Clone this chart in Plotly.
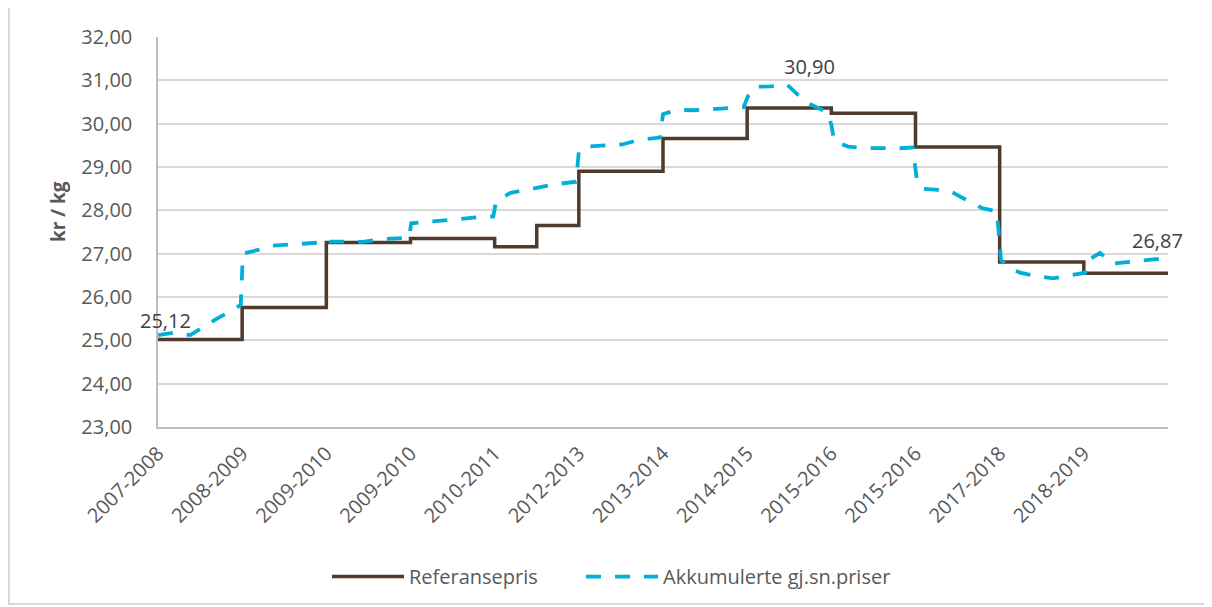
import plotly.graph_objects as go

# ---- data ----
tick_labels = ["2007-2008", "2008-2009", "2009-2010", "2009-2010", "2010-2011", "2012-2013",
               "2013-2014", "2014-2015", "2015-2016", "2015-2016", "2017-2018", "2018-2019"]
tick_months = [0, 12, 24, 36, 48, 60, 72, 84, 96, 108, 120, 132]

ref_months = [0, 12, 24, 36, 48, 54, 60, 72, 84, 96, 108, 120, 132, 144]
ref_values = [25.02, 25.76, 27.26, 27.35, 27.16, 27.65, 28.90, 29.66, 30.36, 30.24, 29.46, 26.81, 26.55, 26.55]

acc_months = [0, 2.4, 4.6, 6.4, 8.4, 10.7, 11.8, 12.1, 14.1, 16.0, 18.4, 20.7, 23.4, 23.8, 24.5, 26.9,
              29.2, 31.7, 34.1, 35.8, 36.1, 38.8, 40.9, 43.3, 46.3, 47.8, 48.2, 50.2, 52.0, 54.7,
              56.6, 59.6, 60.0, 61.0, 64.0, 66.2, 68.4, 71.6, 72.0, 74.0, 76.3, 78.7, 80.8, 83.5,
              84.1, 85.1, 87.3, 89.7, 91.2, 93.2, 95.5, 96.0, 96.4, 98.4, 100.5, 105.4, 107.6,
              108.2, 108.9, 111.2, 113.3, 115.5, 117.5, 119.6, 120.2, 121.2, 122.9, 125.3, 127.6,
              130.0, 132.2, 132.9, 134.3, 136.1, 138.2, 140.4, 142.8, 144.0]
acc_values = [25.12, 25.18, 25.12, 25.30, 25.50, 25.70, 25.82, 27.00, 27.08, 27.18, 27.20, 27.24, 27.26,
              27.33, 27.28, 27.28, 27.27, 27.33, 27.36, 27.37, 27.70, 27.74, 27.78, 27.82, 27.85,
              27.86, 28.20, 28.40, 28.46, 28.54, 28.60, 28.66, 29.36, 29.47, 29.51, 29.52, 29.62,
              29.68, 30.22, 30.32, 30.31, 30.33, 30.36, 30.38, 30.63, 30.85, 30.86, 30.90, 30.67,
              30.43, 30.26, 29.97, 29.60, 29.47, 29.44, 29.43, 29.45, 28.70, 28.50, 28.47, 28.41,
              28.22, 28.05, 27.98, 26.85, 26.70, 26.56, 26.48, 26.43, 26.50, 26.56, 26.88, 27.02,
              26.77, 26.80, 26.85, 26.88, 26.87]

FONT = "Open Sans"
GRAY = "#595959"

fig = go.Figure()
fig.add_trace(go.Scatter(x=ref_months, y=ref_values, mode="lines", line_shape="hv",
                         name="Referansepris", legend="legend",
                         line=dict(color="#503A2D", width=3.5)))
fig.add_trace(go.Scatter(x=acc_months, y=acc_values, mode="lines",
                         name="Akkumulerte gj.sn.priser", legend="legend2",
                         line=dict(color="#00AFD8", width=3.8, dash="15px,14px")))

def fmt(v):
    return f"{v:.2f}".replace(".", ",")

imax = acc_values.index(max(acc_values))
labels = [(0, 7, 15), (imax, 22, 18), (len(acc_values) - 1, -11, 19)]
for i, dx, dy in labels:
    fig.add_annotation(x=acc_months[i], y=acc_values[i], text=fmt(acc_values[i]), showarrow=False,
                       xshift=dx, yshift=dy, font=dict(family=FONT, size=20, color="#404040"))

fig.add_annotation(text="<b>kr / kg</b>", xref="paper", yref="paper", x=0, y=0.551, xshift=-100,
                   xanchor="center", yanchor="middle", textangle=-90, showarrow=False,
                   font=dict(family=FONT, size=19, color=GRAY))

# chart area border (left and bottom edges visible in the crop)
fig.add_shape(type="rect", xref="paper", yref="paper", xsizemode="pixel", ysizemode="pixel",
              xanchor=0, yanchor=0, x0=-149, x1=1200, y0=-177, y1=500,
              line=dict(color="#D9D9D9", width=2), fillcolor="rgba(0,0,0,0)", layer="below")

leg_common = dict(orientation="h", xanchor="left", y=-0.3335, yanchor="top",
                  font=dict(family=FONT, size=20, color=GRAY), itemwidth=72,
                  bgcolor="rgba(0,0,0,0)")

fig.update_layout(
    width=1204, height=599,
    margin=dict(l=150, r=44, t=29, b=180, autoexpand=False),
    plot_bgcolor="white", paper_bgcolor="white",
    font=dict(family=FONT, size=20, color=GRAY),
    showlegend=True,
    legend=dict(x=(327 - 158) / 1010, **leg_common),
    legend2=dict(x=(581 - 158) / 1010, **leg_common),
    xaxis=dict(range=[0, 144], tickmode="array", tickvals=tick_months, ticktext=tick_labels,
               tickangle=-45, showgrid=False, zeroline=False, showline=True, linecolor="#BFBFBF",
               linewidth=1.5, ticks="", ticklabelstandoff=5, automargin=False,
               tickfont=dict(family=FONT, size=20, color=GRAY)),
    yaxis=dict(range=[23, 32], dtick=1, tickformat=".2f",
               showgrid=True, gridcolor="#D9D9D9", gridwidth=1.5, zeroline=False,
               showline=True, linecolor="#BFBFBF", linewidth=1.5, ticks="", ticklabelstandoff=20,
               automargin=False, tickfont=dict(family=FONT, size=20, color=GRAY)),
    separators=", ",
)

fig.write_html("out.html")
